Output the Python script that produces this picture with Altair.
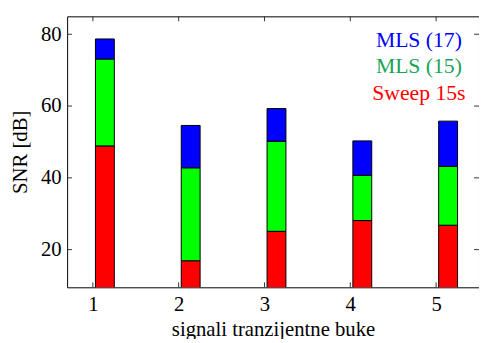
import altair as alt
import pandas as pd

categories = [1, 2, 3, 4, 5]
mls17 = [78.7, 54.6, 59.3, 50.3, 55.8]
mls15 = [73.1, 42.8, 50.2, 40.7, 43.2]
sweep = [48.9, 16.9, 25.1, 28.1, 26.8]
series_names = ["MLS (17)", "MLS (15)", "Sweep 15s"]
bar_colors = ["#0000ff", "#00ff00", "#ff0000"]
text_colors = ["#0000ff", "#1aa35a", "#ff0000"]
y_ticks = [20, 40, 60, 80]

rows = []
for i, c in enumerate(categories):
    rows.append({"cat": c, "series": series_names[2], "low": 0, "high": sweep[i]})
    rows.append({"cat": c, "series": series_names[1], "low": sweep[i], "high": mls15[i]})
    rows.append({"cat": c, "series": series_names[0], "low": mls15[i], "high": mls17[i]})
df = pd.DataFrame(rows)

FONT = "Liberation Serif"
xscale = alt.Scale(domain=[0.7, 5.5], nice=False, zero=False)
yscale = alt.Scale(domain=[9.5, 85], nice=False, zero=False)

bars = alt.Chart(df).mark_bar(stroke="black", strokeWidth=1, clip=True).transform_calculate(
    x0="datum.cat + 0.03", x1="datum.cat + 0.25"
).encode(
    x=alt.X("x0:Q", scale=xscale,
            axis=alt.Axis(values=categories, title="signali tranzijentne buke", ticks=False,
                          domain=False, grid=False, labelPadding=7, titlePadding=4, format="d",
                          labelFont=FONT, titleFont=FONT)),
    x2="x1:Q",
    y=alt.Y("low:Q", scale=yscale,
            axis=alt.Axis(values=y_ticks, title="SNR [dB]", ticks=False, domain=False,
                          grid=False, labelPadding=6, titlePadding=10,
                          labelFont=FONT, titleFont=FONT)),
    y2="high:Q",
    color=alt.Color("series:N", scale=alt.Scale(domain=series_names, range=bar_colors), legend=None),
)

ytick_df = pd.DataFrame({"v": y_ticks})
xtick_df = pd.DataFrame({"v": categories})
tick_color = "#333333"
yt_left = alt.Chart(ytick_df).mark_rule(color=tick_color).encode(
    y=alt.Y("v:Q", scale=yscale), x=alt.value(0), x2=alt.value(5))
yt_right = alt.Chart(ytick_df).mark_rule(color=tick_color).encode(
    y=alt.Y("v:Q", scale=yscale), x=alt.value(413), x2=alt.value(418))
xt_bottom = alt.Chart(xtick_df).mark_rule(color=tick_color).encode(
    x=alt.X("v:Q", scale=xscale), y=alt.value(275), y2=alt.value(270))
xt_top = alt.Chart(xtick_df).mark_rule(color=tick_color).encode(
    x=alt.X("v:Q", scale=xscale), y=alt.value(0), y2=alt.value(5))

legend_layers = []
legend_y = [31, 58, 85]
for name, col, yy in zip(series_names, text_colors, legend_y):
    legend_layers.append(
        alt.Chart(pd.DataFrame({"t": [name]})).mark_text(
            font=FONT, fontSize=22, color=col, align="center", baseline="alphabetic"
        ).encode(text="t:N", x=alt.value(357), y=alt.value(yy))
    )

chart = alt.layer(bars, yt_left, yt_right, xt_bottom, xt_top, *legend_layers).properties(
    width=418, height=275,
    autosize=alt.AutoSizeParams(type="none"),
    padding={"left": 60, "top": 6, "right": 0, "bottom": 50},
).configure_view(stroke="black", strokeWidth=1).configure_axis(
    labelFontSize=21, titleFontSize=21,
    labelColor="black", titleColor="black", titleFontWeight="normal"
)

chart.save("out.html", embed_options={"renderer": "svg", "actions": False})
